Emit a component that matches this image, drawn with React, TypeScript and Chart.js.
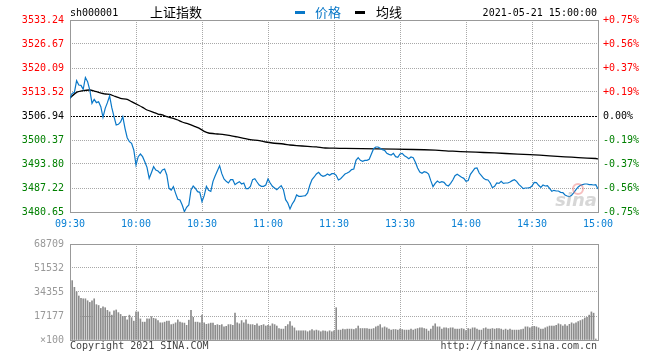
import React, { useEffect, useRef } from 'react';
import { Chart, registerables } from 'chart.js';

Chart.register(...registerables);

// ---------- data ----------
const symbol = 'sh000001';
const indexName = '上证指数';
const legendPrice = '价格';
const legendAvg = '均线';
const stamp = '2021-05-21 15:00:00';
const copyright = 'Copyright 2021 SINA.COM';
const siteUrl = 'http://finance.sina.com.cn';

const prevClose = 3506.94;
const priceMin = 3480.65;
const priceMax = 3533.24;
const priceTicks = [3480.65, 3487.22, 3493.8, 3500.37, 3506.94, 3513.52, 3520.09, 3526.67, 3533.24];
const pctLabels = ['-0.75%', '-0.56%', '-0.37%', '-0.19%', '0.00%', '+0.19%', '+0.37%', '+0.56%', '+0.75%'];

const timeTicks = [0, 30, 60, 90, 120, 150, 180, 210, 240];
const timeLabels = ['09:30', '10:00', '10:30', '11:00', '11:30', '13:30', '14:00', '14:30', '15:00'];

// one value per trading minute (09:30 .. 11:30, 13:01 .. 15:00)
const price = [
  3511.78, 3513.15, 3513.43, 3516.62, 3515.43, 3515.34, 3514.25, 3517.5, 3516.35, 3514.06,
  3510.41, 3511.51, 3510.6, 3510.87, 3509.5, 3506.58, 3509.04, 3510.6, 3512.42, 3509.23,
  3506.76, 3504.48, 3504.66, 3505.3, 3506.76, 3503.56, 3501.01, 3499.91, 3499.46, 3497.63,
  3493.52, 3495.8, 3496.53, 3495.8, 3494.43, 3492.88, 3489.87, 3491.42, 3493.06, 3492.15,
  3491.88, 3491.24, 3492.15, 3492.42, 3490.78, 3487.13, 3486.67, 3487.59, 3485.76, 3484.12,
  3483.94, 3482.57, 3480.74, 3481.93, 3482.57, 3486.67, 3487.77, 3487.13, 3486.22, 3486.04,
  3483.48, 3485.13, 3487.68, 3486.59, 3486.31, 3489.05, 3490.6, 3491.97, 3493.34, 3491.15,
  3489.69, 3489.05, 3488.6, 3489.51, 3489.51, 3488.14, 3488.6, 3488.96, 3488.32, 3488.6,
  3487.04, 3487.04, 3487.68, 3489.51, 3489.78, 3488.87, 3488.05, 3487.68, 3487.68, 3488.05,
  3489.69, 3488.6, 3487.68, 3487.23, 3486.77, 3487.32, 3487.87, 3486.77, 3484.03, 3483.12,
  3481.47, 3482.84, 3483.76, 3485.31, 3484.94, 3484.94, 3485.04, 3485.13, 3485.86, 3487.96,
  3489.51, 3490.24, 3491.06, 3491.52, 3490.79, 3490.42, 3490.6, 3491.06, 3490.7, 3491.15,
  3491.15, 3490.7, 3489.42, 3489.78, 3490.42, 3491.06, 3491.33, 3491.7, 3492.25, 3492.43,
  3494.8, 3495.53, 3494.8, 3494.53, 3494.8, 3494.8, 3495.08, 3496.54, 3498.0, 3498.46,
  3498.46, 3498.09, 3497.73, 3497.54, 3496.72, 3496.45, 3496.27, 3496.72, 3495.81, 3495.63,
  3496.54, 3496.72, 3496.08, 3495.72, 3495.26, 3495.72, 3495.53, 3494.26, 3492.7, 3491.61,
  3491.24, 3491.7, 3491.52, 3491.06, 3489.24, 3487.59, 3488.5, 3489.14, 3488.69, 3488.96,
  3488.78, 3488.05, 3487.78, 3488.5, 3489.42, 3490.6, 3490.97, 3490.6, 3490.15, 3489.87,
  3489.05, 3489.24, 3490.97, 3491.79, 3492.61, 3492.7, 3491.33, 3490.6, 3489.87, 3489.51,
  3489.42, 3488.6, 3487.32, 3487.68, 3488.6, 3488.5, 3489.05, 3488.5, 3488.6, 3488.6,
  3488.87, 3489.24, 3489.51, 3489.05, 3488.23, 3487.68, 3487.04, 3487.23, 3487.23, 3487.32,
  3487.78, 3488.78, 3488.69, 3487.96, 3487.41, 3488.05, 3487.78, 3487.87, 3487.14, 3486.31,
  3486.59, 3486.4, 3486.4, 3486.04, 3485.95, 3485.31, 3485.04, 3484.85, 3485.22, 3485.95,
  3486.77, 3487.5, 3487.96, 3488.14, 3488.32, 3488.32, 3488.14, 3488.14, 3488.05, 3488.14,
  3486.95,
];

// average price line, read at these minutes
const avgMinutes = [
  0, 3, 6, 9, 11, 13, 16, 18, 20, 23, 26, 28, 31, 33, 35, 38, 40, 42, 44, 47, 49, 51, 54, 57, 59,
  61, 63, 67, 70, 73, 76, 79, 82, 86, 89, 92, 97, 100, 103, 108, 112, 116, 120, 125, 140, 156,
  166, 174, 181, 188, 198, 209, 218, 225, 231, 239, 240,
];
const avgPrice = [
  3511.9, 3513.43, 3513.88, 3514.06, 3513.79, 3513.43, 3512.97, 3512.88, 3512.42, 3511.78,
  3511.51, 3510.87, 3509.96, 3509.32, 3508.59, 3507.95, 3507.49, 3507.22, 3506.76, 3506.3,
  3505.85, 3505.3, 3504.75, 3504.02, 3503.5, 3502.75, 3502.29, 3502.02, 3501.83, 3501.56,
  3501.2, 3500.83, 3500.46, 3500.19, 3499.82, 3499.55, 3499.28, 3499.0, 3498.82, 3498.64,
  3498.46, 3498.18, 3498.12, 3498.05, 3497.95, 3497.77, 3497.6, 3497.3, 3497.1, 3496.95,
  3496.68, 3496.36, 3496.04, 3495.77, 3495.55, 3495.3, 3495.2,
];

// volume per minute, in units of 100 (index = minute)
const volume = [
  null,
  42500, 37700, 34500, 31500, 29900, 29500, 29500, 28100, 26900, 28100,
  29500, 25300, 24700, 22600, 23700, 23100, 21200, 20100, 17800, 20800,
  21500, 19600, 18300, 16900, 16900, 14400, 17800, 16000, 13500, 20100,
  20100, 15100, 12800, 12800, 15100, 15100, 16700, 15500, 15100, 13900,
  12300, 12300, 12800, 13500, 13500, 11000, 11400, 12300, 14400, 12800,
  12300, 12100, 10500, 14200, 21200, 16200, 12800, 12800, 12300, 17800,
  12300, 11200, 11600, 12100, 12100, 10500, 11000, 10500, 11000, 9400,
  9800, 11000, 11000, 10500, 19200, 12300, 11600, 13900, 12300, 14400,
  11400, 11000, 11000, 10500, 11600, 10000, 10500, 11000, 10000, 10500,
  10000, 11600, 11000, 10000, 8200, 7800, 7800, 9800, 11000, 13200,
  10000, 8700, 6600, 6600, 6600, 6600, 6600, 5900, 6600, 7500,
  6600, 7100, 6600, 5900, 6600, 6400, 5900, 6600, 5900, 6600,
  23100, 7100, 7100, 7800, 7500, 7800, 7800, 7800, 7500, 8200,
  10000, 8200, 8200, 8200, 8200, 7800, 7800, 8200, 9400, 10000,
  11000, 8700, 9400, 8700, 7800, 7100, 7500, 7500, 7100, 7800,
  7500, 7100, 7100, 7100, 7800, 7100, 7800, 8200, 8700, 8700,
  8200, 7800, 6400, 7800, 10000, 11600, 9400, 9400, 7800, 8700,
  8700, 8200, 8700, 8700, 7800, 7800, 7800, 8200, 7800, 6800,
  8200, 7800, 8700, 8700, 7800, 7100, 7100, 8200, 8700, 7800,
  7800, 8200, 7800, 8200, 8200, 7800, 7100, 7800, 7100, 7800,
  7100, 7100, 7100, 7100, 7500, 7800, 9400, 9400, 8700, 9400,
  9800, 9400, 8700, 7800, 7800, 8700, 9400, 10000, 10000, 10000,
  10500, 11600, 11000, 10000, 11000, 10000, 11200, 12300, 11600, 12300,
  13200, 13900, 14600, 15800, 16200, 17800, 20100, 19200, 700,
];
const volTicks = [0, 17177, 34355, 51532, 68709];
const volMax = 68709;

// ---------- styles ----------
const BLUE = '#0a78c8';
const AXIS_BLUE = '#0a80d4';
const RED = '#ff0000';
const GREEN = '#008000';
const GRID = '#a8a8a8';
const FRAME = '#999999';
const MONO = '"DejaVu Sans Mono", "Liberation Mono", monospace';
const CJK = '"Noto Sans CJK SC", "Noto Sans", sans-serif';

const framePlugin = {
  id: 'frame',
  beforeDatasetsDraw(chart: any) {
    const { ctx, chartArea: a } = chart;
    const l = Math.round(a.left) + 0.5;
    const r = Math.round(a.right) + 0.5;
    const t = Math.round(a.top) + 0.5;
    const b = Math.round(a.bottom) + 0.5;
    ctx.save();
    ctx.strokeStyle = FRAME;
    ctx.lineWidth = 1;
    ctx.setLineDash([]);
    ctx.strokeRect(l, t, r - l, b - t);
    ctx.restore();
  },
};

const headerPlugin = {
  id: 'header',
  afterDraw(chart: any) {
    const { ctx } = chart;
    ctx.save();
    ctx.textBaseline = 'middle';
    ctx.textAlign = 'left';
    ctx.fillStyle = '#000';
    ctx.font = `10px ${MONO}`;
    ctx.fillText(symbol, 70, 13);
    ctx.font = `13px ${CJK}`;
    ctx.fillText(indexName, 150, 12);
    ctx.fillStyle = BLUE;
    ctx.fillRect(295, 11, 10, 3);
    ctx.fillText(legendPrice, 315, 12);
    ctx.fillStyle = '#000';
    ctx.fillRect(355, 11, 10, 3);
    ctx.fillText(legendAvg, 376, 12);
    ctx.font = `10px ${MONO}`;
    ctx.textAlign = 'right';
    ctx.fillText(stamp, 597, 13);
    ctx.restore();
  },
  afterDatasetsDraw(chart: any) {
    // faint sina watermark
    const { ctx, chartArea: a } = chart;
    ctx.save();
    ctx.strokeStyle = 'rgba(235,110,110,0.45)';
    ctx.lineWidth = 2;
    ctx.beginPath();
    ctx.arc(a.right - 20, a.bottom - 23, 5, 0, Math.PI * 2);
    ctx.stroke();
    ctx.font = `italic bold 18px "DejaVu Sans", sans-serif`;
    ctx.fillStyle = 'rgba(160,160,160,0.42)';
    ctx.textAlign = 'right';
    ctx.textBaseline = 'alphabetic';
    ctx.fillText('sina', a.right - 1, a.bottom - 6);
    ctx.restore();
  },
};

const footerPlugin = {
  id: 'footer',
  afterDraw(chart: any) {
    const { ctx } = chart;
    ctx.save();
    ctx.textBaseline = 'middle';
    ctx.fillStyle = '#444';
    ctx.font = `10px ${MONO}`;
    ctx.textAlign = 'left';
    ctx.fillText(copyright, 70, 114);
    ctx.textAlign = 'right';
    ctx.fillText(siteUrl, 597, 114);
    ctx.restore();
  },
};

const isBase = (v: number) => Math.abs(v - prevClose) < 0.001;
const priceColor = (v: number) => (isBase(v) ? '#000' : v > prevClose ? RED : GREEN);

export default function App() {
  const priceRef = useRef<HTMLCanvasElement>(null);
  const volRef = useRef<HTMLCanvasElement>(null);

  useEffect(() => {
    const charts: Chart[] = [];
    if (priceRef.current) {
      charts.push(
        new Chart(priceRef.current, {
          type: 'line',
          data: {
            datasets: [
              {
                label: legendPrice,
                data: price.map((v, i) => ({ x: i, y: v })),
                borderColor: BLUE,
                borderWidth: 1.2,
                pointRadius: 0,
                tension: 0,
                yAxisID: 'y',
              },
              {
                label: legendAvg,
                data: avgMinutes.map((m, i) => ({ x: m, y: avgPrice[i] })),
                borderColor: '#000',
                borderWidth: 1.3,
                pointRadius: 0,
                tension: 0.2,
                yAxisID: 'y',
              },
            ],
          },
          options: {
            responsive: false,
            animation: false,
            events: [],
            layout: { padding: { top: 20, left: 0, right: 0, bottom: 0 } },
            plugins: { legend: { display: false }, tooltip: { enabled: false }, title: { display: false } },
            scales: {
              x: {
                type: 'linear',
                min: 0,
                max: 240,
                afterBuildTicks: (s: any) => {
                  s.ticks = timeTicks.map((v) => ({ value: v }));
                },
                afterFit: (s: any) => {
                  s.height = 20;
                },
                ticks: {
                  autoSkip: false,
                  maxRotation: 0,
                  padding: 6,
                  color: AXIS_BLUE,
                  font: { family: MONO, size: 10 },
                  callback: (_v: any, i: number) => timeLabels[i],
                },
                grid: { color: GRID, lineWidth: 1, drawTicks: false },
                border: { display: false, dash: [1, 1] },
              },
              y: {
                type: 'linear',
                position: 'left',
                min: priceMin,
                max: priceMax,
                afterBuildTicks: (s: any) => {
                  s.ticks = priceTicks.map((v) => ({ value: v }));
                },
                afterFit: (s: any) => {
                  s.width = 70;
                },
                ticks: {
                  padding: 6,
                  font: { family: MONO, size: 10 },
                  color: (ctx: any) => priceColor(ctx.tick.value),
                  callback: (v: any) => Number(v).toFixed(2),
                },
                grid: {
                  drawTicks: false,
                  lineWidth: 1,
                  color: (ctx: any) => (ctx.tick && isBase(ctx.tick.value) ? '#000' : GRID),
                },
                border: {
                  display: false,
                  dash: (ctx: any) => (ctx.tick && isBase(ctx.tick.value) ? [2, 1] : [1, 1]),
                },
              },
              yR: {
                type: 'linear',
                position: 'right',
                min: priceMin,
                max: priceMax,
                afterBuildTicks: (s: any) => {
                  s.ticks = priceTicks.map((v) => ({ value: v }));
                },
                afterFit: (s: any) => {
                  s.width = 62;
                },
                ticks: {
                  padding: 5,
                  font: { family: MONO, size: 10 },
                  color: (ctx: any) => priceColor(ctx.tick.value),
                  callback: (_v: any, i: number) => pctLabels[i],
                },
                grid: { display: false, drawTicks: false },
                border: { display: false },
              },
            },
          } as any,
          plugins: [framePlugin, headerPlugin],
        })
      );
    }
    if (volRef.current) {
      charts.push(
        new Chart(volRef.current, {
          type: 'bar',
          data: {
            datasets: [
              {
                label: 'volume',
                data: volume
                  .map((v, i) => ({ x: i, y: v }))
                  .filter((p) => p.y !== null) as any,
                backgroundColor: '#8c8c8c',
                borderWidth: 0,
                barThickness: 1,
              },
            ],
          },
          options: {
            responsive: false,
            animation: false,
            events: [],
            layout: { padding: { top: 8, left: 0, right: 62, bottom: 0 } },
            plugins: { legend: { display: false }, tooltip: { enabled: false } },
            scales: {
              x: {
                type: 'linear',
                min: 0,
                max: 240,
                offset: false,
                afterBuildTicks: (s: any) => {
                  s.ticks = timeTicks.map((v) => ({ value: v }));
                },
                afterFit: (s: any) => {
                  s.height = 20;
                },
                ticks: { display: false },
                grid: { color: GRID, lineWidth: 1, drawTicks: false, offset: false },
                border: { display: false, dash: [1, 1] },
              },
              y: {
                type: 'linear',
                position: 'left',
                min: 0,
                max: volMax,
                afterBuildTicks: (s: any) => {
                  s.ticks = volTicks.map((v) => ({ value: v }));
                },
                afterFit: (s: any) => {
                  s.width = 70;
                },
                ticks: {
                  padding: 6,
                  color: '#999',
                  font: { family: MONO, size: 10 },
                  callback: (v: any) => (Number(v) === 0 ? '×100' : String(v)),
                },
                grid: { color: GRID, lineWidth: 1, drawTicks: false },
                border: { display: false, dash: [1, 1] },
              },
            },
          } as any,
          plugins: [framePlugin, footerPlugin],
        })
      );
    }
    return () => charts.forEach((c) => c.destroy());
  }, []);

  return (
    <div style={{ position: 'absolute', left: 0, top: 0, width: 660, height: 360, background: '#fff' }}>
      <canvas
        ref={priceRef}
        width={660}
        height={232}
        style={{ position: 'absolute', left: 0, top: 0, width: 660, height: 232, display: 'block' }}
      />
      <canvas
        ref={volRef}
        width={660}
        height={128}
        style={{ position: 'absolute', left: 0, top: 232, width: 660, height: 128, display: 'block' }}
      />
    </div>
  );
}
